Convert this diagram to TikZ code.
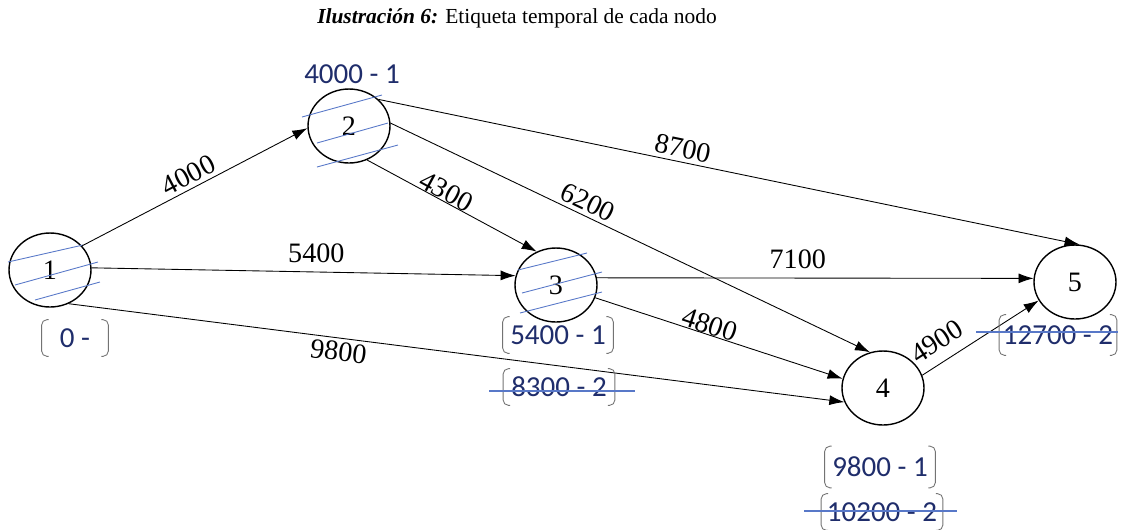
\documentclass[tikz,border=0pt]{standalone}
\usepackage{fontspec}
\setmainfont{Liberation Serif}
\newfontfamily\tagfont{Carlito}
\usetikzlibrary{shapes.geometric, arrows.meta, positioning}
\definecolor{navy}{HTML}{1F2D6B}
\definecolor{hatchblue}{HTML}{5878C8}

% bracket pair round a label
\newcommand{\brackets}[1]{%
  \draw[brk] ([xshift=4pt]#1.north west) -- (#1.north west) -- (#1.south west) -- ([xshift=4pt]#1.south west);
  \draw[brk] ([xshift=-4pt]#1.north east) -- (#1.north east) -- (#1.south east) -- ([xshift=-4pt]#1.south east);}

\begin{document}
\begin{tikzpicture}[
    x=0.02cm, y=-0.02cm,
    event/.style={draw, ellipse, line width=0.8pt, minimum width=1.64cm, minimum height=1.48cm, inner sep=0pt, font=\fontsize{16}{18}\selectfont},
    arrow/.style={-{Latex[length=3mm, width=2mm]}, line width=0.5pt},
    weight/.style={font=\fontsize{16}{18}\selectfont, inner sep=2pt},
    tag/.style={font=\tagfont\fontsize{16.5}{18}\selectfont, text=navy, inner sep=0pt, minimum height=0.72cm},
    brk/.style={draw=black!55, line width=0.5pt, rounded corners=3pt},
    hatch/.style={draw=hatchblue, line width=0.5pt},
    strike/.style={draw=hatchblue, line width=0.6pt}
]
\useasboundingbox (0,0) rectangle (1127,529);

% Title
\node[font=\fontsize{12.2}{14}\selectfont] (title) at (517,18) {\textbf{\textit{Ilustración 6:}} Etiqueta temporal de cada nodo};

% Nodes
\node[event] (n1) at (50,270) {1};
\node[event] (n2) at (349,126) {2};
\node[event] (n3) at (556,285) {3};
\node[event] (n4) at (883,388) {4};
\node[event] (n5) at (1075,282) {5};

% Hatching on labelled nodes
\draw[hatch, shift={(n1.center)}] (-42,-8) -- (33,-25) (-35,15) -- (48,-8) (-15,30) -- (50,12);
\draw[hatch, shift={(n2.center)}] (-47,-9) -- (33,-31) (-32,17) -- (39,-3) (-32,41) -- (49,19);
\draw[hatch, shift={(n3.center)}] (-38,-15) -- (31,-32) (-34,8) -- (46,-13) (-36,28) -- (46,7);

% Arrows
\draw[arrow] (n1.37) -- node[weight, pos=0.5, sloped, above] {4000} (n2.183);
\draw[arrow] (n1.3) -- node[weight, pos=0.53, above=3pt] {5400} (n3.167);
\draw[arrow] (n1.-61) -- node[weight, pos=0.35, sloped, below] {9800} (n4.200);
\draw[arrow] (n2.-62) -- node[weight, pos=0.44, sloped, above, inner sep=0pt] {4300} (n3.120);
\draw[arrow] (n2.4) -- node[weight, pos=0.4, sloped, above] {6200} (n4.110);
\draw[arrow] (n2.42) -- node[weight, pos=0.43, sloped, above] {8700} (n5.83);
\draw[arrow] (n3.10) -- node[weight, pos=0.46, above=3pt] {7100} (n5.175);
\draw[arrow] (n3.-18) -- node[weight, pos=0.45, sloped, above, inner sep=0pt] {4800} (n4.167);
\draw[arrow] (n4.18) -- node[weight, pos=0.22, sloped, above=4pt] {4900} (n5.207);

% Time labels
\node[tag] (t2) at (352,74) {4000 - 1};
\node[tag, minimum width=1.32cm] (t1) at (75,338) {0 - };
\node[tag, minimum width=2.2cm] (t3a) at (558,335) {5400 - 1};
\node[tag, minimum width=2.22cm] (t3b) at (559,387) {8300 - 2};
\node[tag, minimum width=2.2cm, minimum height=0.82cm] (t4a) at (880,467) {9800 - 1};
\node[tag, minimum width=2.42cm] (t4b) at (882,512) {10200 - 2};
\node[tag, minimum width=2.34cm, minimum height=0.8cm] (t5) at (1058,335) {12700 - 2};
\foreach \t in {t1, t3a, t3b, t4a, t4b, t5}
  \brackets{\t};

% Struck-out labels
\draw[strike] ([shift={(-14,4)}]t3b.west) -- ([shift={(20,4)}]t3b.east);
\draw[strike] ([shift={(-17,-1)}]t4b.west) -- ([shift={(14,-1)}]t4b.east);
\draw[strike] ([shift={(-23,-3)}]t5.west) -- ([shift={(1,-3)}]t5.east);
\end{tikzpicture}
\end{document}
